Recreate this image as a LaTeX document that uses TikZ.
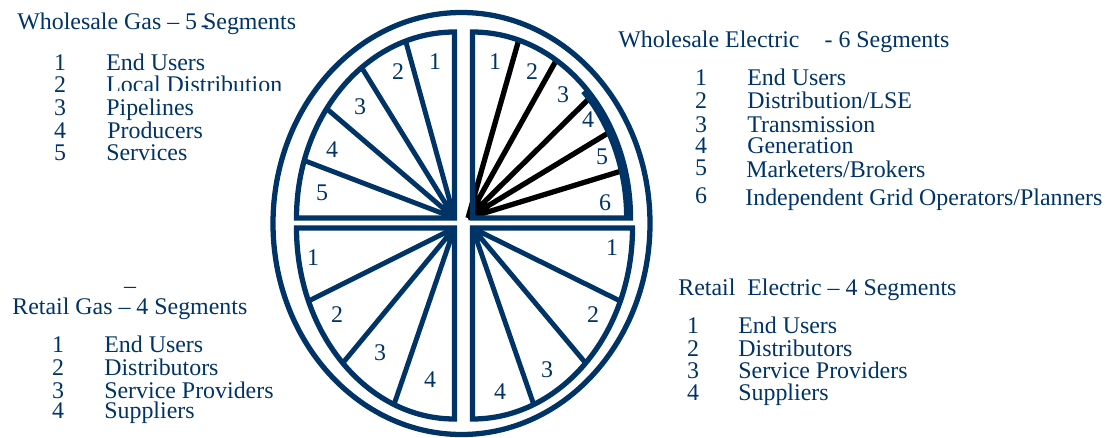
\documentclass[tikz,border=0pt]{standalone}
\usepackage{fontspec}
\setmainfont{Liberation Serif}
\usetikzlibrary{calc}
\definecolor{navy}{RGB}{0,51,102}
\tikzset{
    rim/.style={draw=navy, line width=3pt},
    quarter/.style={draw=navy, line width=3pt, line join=miter},
    spoke/.style={draw=navy, line width=2.8pt},
    blackspoke/.style={draw=black, line width=3pt},
    num/.style={text=navy, font=\fontsize{13.6}{16}\selectfont, inner sep=0pt},
    heading/.style={num, anchor=base west},
    item/.style={num, anchor=base west},
    itemnum/.style={num, anchor=base},
}

\begin{document}
\begin{tikzpicture}[x=0.02cm, y=0.02cm]

    \useasboundingbox (0,0) rectangle (1119,437);

    % wheel
    \coordinate (mid) at (461.5,213.5);
    \coordinate (ul) at (454.5,219);
    \coordinate (ur) at (472.5,219);
    \coordinate (ll) at (454.5,209);
    \coordinate (lr) at (472.5,209);
    \coordinate (hub) at (468,219);
    \draw[rim] (mid) ellipse [x radius=188.5, y radius=211];

    \draw[spoke] (ul) -- ++(108:158 and 186) (ul) -- ++(126:158 and 186)
                 (ul) -- ++(144:158 and 186) (ul) -- ++(162:158 and 186);
    \draw[blackspoke] (hub) -- ($(ur)+(73:158 and 186)$) (hub) -- ($(ur)+(58:158 and 186)$)
                      (hub) -- ($(ur)+(41:158 and 186)$) (hub) -- ($(ur)+(28:158 and 186)$)
                      (hub) -- ($(ur)+(15:158 and 186)$);
    \draw[spoke] (ll) -- ++(202.5:158 and 191) (ll) -- ++(225:158 and 191)
                 (ll) -- ++(247.5:158 and 191);
    \draw[spoke] (lr) -- ++(-22.5:160 and 191) (lr) -- ++(-45:160 and 191)
                 (lr) -- ++(-67.5:160 and 191);

    \draw[quarter] (ul) -- ++(0,186) arc[start angle=90, end angle=180, x radius=158, y radius=186] -- cycle;
    \draw[quarter] (ur) -- ++(158,0) arc[start angle=0, end angle=90, x radius=158, y radius=186] -- cycle;
    \draw[spoke] ($(ur)+(154,0)$) arc[start angle=0, end angle=44, x radius=154, y radius=182];
    \draw[quarter] (ll) -- ++(-158,0) arc[start angle=180, end angle=270, x radius=158, y radius=191] -- cycle;
    \draw[quarter] (lr) -- ++(0,-191) arc[start angle=270, end angle=360, x radius=160, y radius=191] -- cycle;

    % segment numbers
    \node[num] (ul1) at (435,375) {1};
    \node[num] (ul2) at (398,365) {2};
    \node[num] (ul3) at (360,330) {3};
    \node[num] (ul4) at (332,287) {4};
    \node[num] (ul5) at (322,244) {5};
    \node[num] (ur1) at (495,375) {1};
    \node[num] (ur2) at (532,365) {2};
    \node[num] (ur3) at (563,342) {3};
    \node[num] (ur4) at (588,317) {4};
    \node[num] (ur5) at (602,280) {5};
    \node[num] (ur6) at (605,234) {6};
    \node[num] (ll1) at (313,179) {1};
    \node[num] (ll2) at (337,122) {2};
    \node[num] (ll3) at (380,84) {3};
    \node[num] (ll4) at (430,57) {4};
    \node[num] (lr1) at (612,189) {1};
    \node[num] (lr2) at (593,122) {2};
    \node[num] (lr3) at (547,67) {3};
    \node[num] (lr4) at (500,45) {4};

    % wholesale gas
    \node[heading] (wgtitle) at (17,407) {Wholesale Gas -- 5 \rlap{\kern-0.1em\raisebox{-0.12em}{-}}Segments};
    \node[itemnum] (wg1n) at (60,367) {1};
    \node[itemnum] (wg2n) at (60,344.5) {2};
    \node[itemnum] (wg3n) at (60,322) {3};
    \node[itemnum] (wg4n) at (60,299) {4};
    \node[itemnum] (wg5n) at (60,277) {5};
    \node[item] (wg1) at (106,367) {End Users};
    \begin{scope}
        \clip (100,347) rectangle (300,380);
        \node[item] (wg2) at (106,344.5) {Local Distribution};
    \end{scope}
    \node[item] (wg3) at (106,322) {Pipelines};
    \node[item] (wg4) at (107,299) {Producers};
    \node[item] (wg5) at (106,277) {Services};

    % wholesale electric
    \node[heading] (wetitle) at (618,389) {Wholesale Electric\hspace{0.8em} - 6 Segments};
    \node[itemnum] (we1n) at (701,352) {1};
    \node[itemnum] (we2n) at (701,329) {2};
    \node[itemnum] (we3n) at (701,305) {3};
    \node[itemnum] (we4n) at (701,284) {4};
    \node[itemnum] (we5n) at (701,262) {5};
    \node[itemnum] (we6n) at (701,234) {6};
    \node[item] (we1) at (747,352) {End Users};
    \node[item] (we2) at (747,329) {Distribution/LSE};
    \node[item] (we3) at (747,305) {Transmission};
    \node[item] (we4) at (747,284) {Generation};
    \node[item] (we5) at (746,260) {Marketers/Brokers};
    \node[item] (we6) at (745,232) {Independent Grid Operators/Planners};

    % retail gas
    \node[num] (rgdash) at (130,147) {--};
    \node[heading] (rgtitle) at (12,123) {Retail Gas -- 4 Segments};
    \node[itemnum] (rg1n) at (58,85) {1};
    \node[itemnum] (rg2n) at (58,62) {2};
    \node[itemnum] (rg3n) at (58,39) {3};
    \node[itemnum] (rg4n) at (58,19) {4};
    \node[item] (rg1) at (104,85) {End Users};
    \node[item] (rg2) at (104,62) {Distributors};
    \node[item] (rg3) at (104,39) {Service Providers};
    \node[item] (rg4) at (104,19) {Suppliers};

    % retail electric
    \node[heading] (retitle) at (678,142) {Retail~ Electric -- 4 Segments};
    \node[itemnum] (re1n) at (693,104) {1};
    \node[itemnum] (re2n) at (693,81) {2};
    \node[itemnum] (re3n) at (693,59) {3};
    \node[itemnum] (re4n) at (693,37) {4};
    \node[item] (re1) at (738,104) {End Users};
    \node[item] (re2) at (738,81) {Distributors};
    \node[item] (re3) at (738,59) {Service Providers};
    \node[item] (re4) at (738,37) {Suppliers};

\end{tikzpicture}
\end{document}
